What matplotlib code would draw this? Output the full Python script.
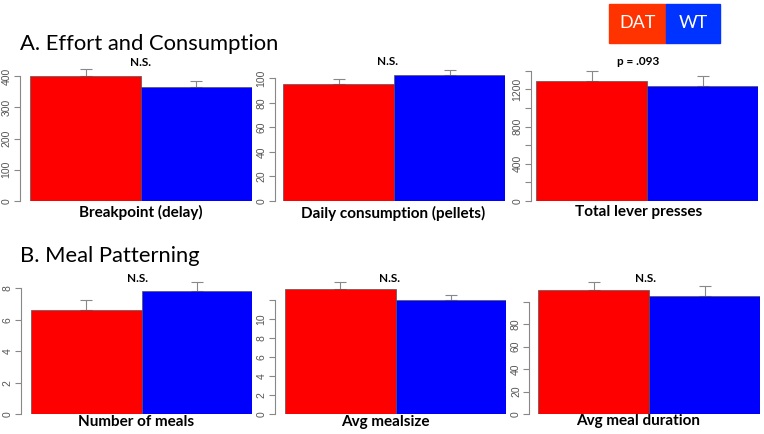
import matplotlib.pyplot as plt
import numpy as np

plt.rcParams['font.family'] = ['Liberation Sans', 'DejaVu Sans']

groups = ["DAT", "WT"]
bar_colors = ["#ff0000", "#0000ff"]

measures = ["Breakpoint (delay)", "Daily consumption (pellets)", "Total lever presses",
            "Number of meals", "Avg mealsize", "Avg meal duration"]
dat_means = [401, 95.2, 1290, 6.6, 13.15, 110.5]
wt_means = [364, 102.6, 1235, 7.85, 12.0, 105.0]
dat_sem = [20, 4.0, 107, 0.68, 0.7, 7.0]
wt_sem = [20, 3.8, 106, 0.53, 0.57, 9.2]
stats_labels = ["N.S.", "N.S.", "p = .093", "N.S.", "N.S.", "N.S."]
tick_values = [[0, 100, 200, 300, 400], [0, 20, 40, 60, 80, 100],
               [0, 200, 400, 600, 800, 1000, 1200, 1400],
               [0, 2, 4, 6, 8], [0, 2, 4, 6, 8, 10, 12], [0, 20, 40, 60, 80, 100]]
tick_labels = [["0", "100", "200", "300", "400"], ["0", "20", "40", "60", "80", "100"],
               ["0", "", "400", "", "800", "", "1200", ""],
               ["0", "2", "4", "6", "8"], ["0", "2", "4", "6", "8", "10", ""],
               ["0", "20", "40", "60", "80", ""]]

W, H = 764, 434
fig = plt.figure(figsize=(W / 100, H / 100), dpi=100)

# layout in pixels: axis x, right edge, zero line y, px per unit, bar offset
layout = [(20, 252, 201, 0.3125, 10), (275, 505, 201, 1.227, 8.3), (530.7, 758, 201, 0.0931, 5.3),
          (20.7, 252, 414, 15.71, 10.3), (275, 506, 414, 9.5, 10), (529.3, 760, 414, 1.121, 8.7)]
label_pos = [(141, 212), (393, 213), (639, 212), (136, 422), (385, 422), (638, 421)]
stat_pos = [(140.5, 62.5), (387.5, 61.7), (638, 61.7), (138, 278.5), (390, 278), (645, 278)]

for i, (x0, x1, y0, scale, off) in enumerate(layout):
    top = 62 if y0 < 300 else 275
    ax = fig.add_axes([x0 / W, 1 - y0 / H, (x1 - x0) / W, (y0 - top) / H])
    bw = (x1 - x0 - off) / 2
    ax.set_xlim(-off / bw, 2)
    ax.set_ylim(0, (y0 - top) / scale)
    ax.bar([0, 1], [dat_means[i], wt_means[i]], width=1, align='edge',
           color=bar_colors, edgecolor="#555555", linewidth=0.5, zorder=2)
    ax.errorbar([0.5, 1.5], [dat_means[i], wt_means[i]],
                yerr=[[0, 0], [dat_sem[i], wt_sem[i]]], fmt='none',
                ecolor="#888888", elinewidth=0.8, capsize=4, capthick=0.8, zorder=1)
    for s in ["top", "right", "bottom"]:
        ax.spines[s].set_visible(False)
    ax.spines["left"].set_color("#888888")
    ax.spines["left"].set_bounds(tick_values[i][0], tick_values[i][-1])
    ax.set_xticks([])
    ax.set_yticks(tick_values[i])
    ax.set_yticklabels(tick_labels[i], rotation=90, va='center', fontsize=7.5, color="#555555")
    ax.tick_params(axis='y', length=4, color="#888888", pad=2)
    fig.text(label_pos[i][0] / W, 1 - label_pos[i][1] / H, measures[i],
             ha='center', va='center', fontsize=11, fontweight='bold', family='Lato')
    fig.text(stat_pos[i][0] / W, 1 - stat_pos[i][1] / H, stats_labels[i],
             ha='center', va='center', fontsize=8.5, fontweight='bold', family='Lato')

fig.text(20 / W, 1 - 44 / H, "A. Effort and Consumption", ha='left', va='center',
         fontsize=15.8, family='Lato')
fig.text(20 / W, 1 - 255.5 / H, "B. Meal Patterning", ha='left', va='center',
         fontsize=15.8, family='Lato')

# legend boxes
fig.patches.append(plt.Rectangle((609 / W, 1 - 43 / H), 57 / W, 39 / H,
                                 transform=fig.transFigure, color="#ff3300"))
fig.patches.append(plt.Rectangle((666 / W, 1 - 43 / H), 54 / W, 39 / H,
                                 transform=fig.transFigure, color="#0033ff"))
fig.text(637.5 / W, 1 - 23.5 / H, groups[0], ha='center', va='center', fontsize=13,
         color='white', family='Lato')
fig.text(693 / W, 1 - 23.5 / H, groups[1], ha='center', va='center', fontsize=13,
         color='white', family='Lato')

fig.savefig("out.png", dpi=100)
